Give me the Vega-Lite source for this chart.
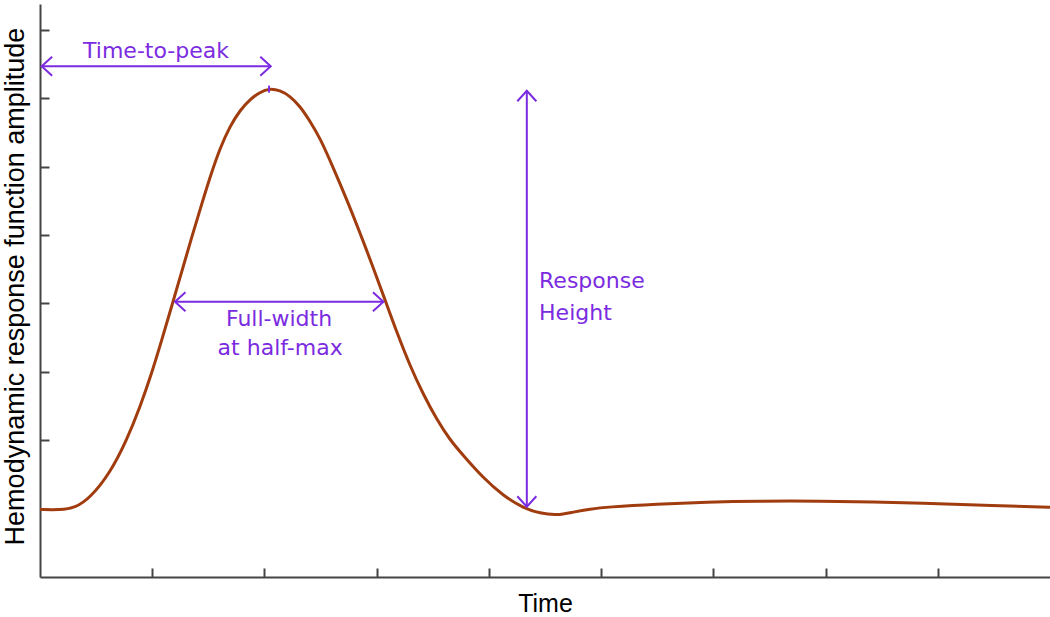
{
  "$schema": "https://vega.github.io/schema/vega-lite/v6.json",
  "width": 1010,
  "height": 573,
  "padding": {"left": 40, "top": 4, "right": 0, "bottom": 40},
  "autosize": {"type": "none"},
  "background": "white",
  "config": {
    "view": {"stroke": null},
    "axis": {
      "grid": false,
      "labels": false,
      "domainColor": "#444444",
      "domainWidth": 2,
      "tickColor": "#444444",
      "tickWidth": 2,
      "tickSize": -9,
      "titleFont": "Liberation Sans",
      "titleFontWeight": "normal",
      "titleColor": "#000000"
    }
  },
  "datasets": {
    "curve": [
      {"x": 0, "y": 0.987}, {"x": 0.178, "y": 0.98}, {"x": 0.312, "y": 1.009},
      {"x": 0.446, "y": 1.155}, {"x": 0.624, "y": 1.52}, {"x": 0.773, "y": 2.003},
      {"x": 0.891, "y": 2.485}, {"x": 0.996, "y": 2.982}, {"x": 1.085, "y": 3.465},
      {"x": 1.174, "y": 3.962}, {"x": 1.263, "y": 4.466}, {"x": 1.352, "y": 4.971},
      {"x": 1.441, "y": 5.453}, {"x": 1.515, "y": 5.848}, {"x": 1.604, "y": 6.272},
      {"x": 1.693, "y": 6.594}, {"x": 1.783, "y": 6.827}, {"x": 1.872, "y": 6.988},
      {"x": 1.961, "y": 7.091}, {"x": 2.041, "y": 7.145}, {"x": 2.139, "y": 7.118},
      {"x": 2.228, "y": 7.032}, {"x": 2.317, "y": 6.886}, {"x": 2.406, "y": 6.667},
      {"x": 2.496, "y": 6.418}, {"x": 2.611, "y": 5.994}, {"x": 2.736, "y": 5.512},
      {"x": 2.852, "y": 5.029}, {"x": 2.968, "y": 4.532}, {"x": 3.075, "y": 4.05},
      {"x": 3.182, "y": 3.567}, {"x": 3.298, "y": 3.085}, {"x": 3.414, "y": 2.675},
      {"x": 3.538, "y": 2.295}, {"x": 3.654, "y": 2.003}, {"x": 3.77, "y": 1.78},
      {"x": 3.948, "y": 1.45}, {"x": 4.127, "y": 1.19}, {"x": 4.305, "y": 1.01},
      {"x": 4.456, "y": 0.93}, {"x": 4.608, "y": 0.9}, {"x": 4.75, "y": 0.95},
      {"x": 4.902, "y": 0.994}, {"x": 5.053, "y": 1.023}, {"x": 5.499, "y": 1.067},
      {"x": 5.945, "y": 1.096}, {"x": 6.39, "y": 1.111}, {"x": 6.979, "y": 1.111},
      {"x": 7.424, "y": 1.096}, {"x": 7.87, "y": 1.082}, {"x": 8.316, "y": 1.053},
      {"x": 8.939, "y": 1.023}, {"x": 9.0, "y": 1.019}
    ],
    "arrows": [
      {"name": "Time-to-peak", "x": 0.015, "y": 7.471, "x2": 2.056, "y2": 7.471},
      {"name": "Full-width at half-max", "x": 1.203, "y": 4.025, "x2": 3.06, "y2": 4.025},
      {"name": "Response Height", "x": 4.338, "y": 7.11, "x2": 4.338, "y2": 1.028}
    ],
    "heads": [
      {"x": 0.015, "y": 7.471, "dir": "left"},
      {"x": 2.056, "y": 7.471, "dir": "right"},
      {"x": 1.203, "y": 4.025, "dir": "left"},
      {"x": 3.06, "y": 4.025, "dir": "right"},
      {"x": 4.338, "y": 7.11, "dir": "up"},
      {"x": 4.338, "y": 1.028, "dir": "down"}
    ],
    "peak": [{"x": 2.041, "y": 7.135}],
    "centerLabels": [
      {"x": 1.034, "y": 7.69, "label": "Time-to-peak"},
      {"x": 2.13, "y": 3.77, "label": "Full-width"},
      {"x": 2.14, "y": 3.35, "label": "at half-max"}
    ],
    "leftLabels": [
      {"x": 4.447, "y": 4.33, "label": "Response"},
      {"x": 4.447, "y": 3.86, "label": "Height"}
    ]
  },
  "encoding": {
    "x": {
      "field": "x", "type": "quantitative",
      "scale": {"domain": [0, 9], "nice": false, "zero": false},
      "axis": {"title": "Time", "values": [1, 2, 3, 4, 5, 6, 7, 8], "titleFontSize": 25, "titleX": 505, "titleY": 14, "titleBaseline": "top"}
    },
    "y": {
      "field": "y", "type": "quantitative",
      "scale": {"domain": [0, 8.38], "nice": false, "zero": false},
      "axis": {"title": "Hemodynamic response function amplitude", "values": [1, 2, 3, 4, 5, 6, 7, 8], "titleFontSize": 27, "titleX": -11, "titleY": 282, "titleAngle": 270, "titleBaseline": "bottom", "titleAlign": "center"}
    }
  },
  "layer": [
    {
      "data": {"name": "curve"},
      "mark": {"type": "line", "color": "#A03C0E", "strokeWidth": 3, "interpolate": "basis"}
    },
    {
      "data": {"name": "arrows"},
      "mark": {"type": "rule", "color": "#7B2BE0", "strokeWidth": 2},
      "encoding": {"x2": {"field": "x2"}, "y2": {"field": "y2"}}
    },
    {
      "data": {"name": "heads"},
      "transform": [{"filter": "datum.dir === 'right'"}],
      "mark": {"type": "point", "shape": "M -1.1 -1 L 0 0 L -1.1 1", "filled": false, "stroke": "#7B2BE0", "strokeWidth": 2, "size": 361, "opacity": 1, "angle": 0}
    },
    {
      "data": {"name": "heads"},
      "transform": [{"filter": "datum.dir === 'left'"}],
      "mark": {"type": "point", "shape": "M 1.1 -1 L 0 0 L 1.1 1", "filled": false, "stroke": "#7B2BE0", "strokeWidth": 2, "size": 361, "opacity": 1, "angle": 0}
    },
    {
      "data": {"name": "heads"},
      "transform": [{"filter": "datum.dir === 'up'"}],
      "mark": {"type": "point", "shape": "M -1 1.1 L 0 0 L 1 1.1", "filled": false, "stroke": "#7B2BE0", "strokeWidth": 2, "size": 361, "opacity": 1, "angle": 0}
    },
    {
      "data": {"name": "heads"},
      "transform": [{"filter": "datum.dir === 'down'"}],
      "mark": {"type": "point", "shape": "M -1 -1.1 L 0 0 L 1 -1.1", "filled": false, "stroke": "#7B2BE0", "strokeWidth": 2, "size": 361, "opacity": 1, "angle": 0}
    },
    {
      "data": {"name": "peak"},
      "mark": {"type": "point", "shape": "M 0 -1 L 0 1", "filled": false, "stroke": "#7B2BE0", "strokeWidth": 2, "size": 49, "opacity": 1}
    },
    {
      "data": {"name": "centerLabels"},
      "mark": {"type": "text", "font": "DejaVu Sans", "fontSize": 22, "color": "#7B2BE0", "align": "center", "baseline": "middle"},
      "encoding": {"text": {"field": "label"}}
    },
    {
      "data": {"name": "leftLabels"},
      "mark": {"type": "text", "font": "DejaVu Sans", "fontSize": 22, "color": "#7B2BE0", "align": "left", "baseline": "middle"},
      "encoding": {"text": {"field": "label"}}
    }
  ]
}
